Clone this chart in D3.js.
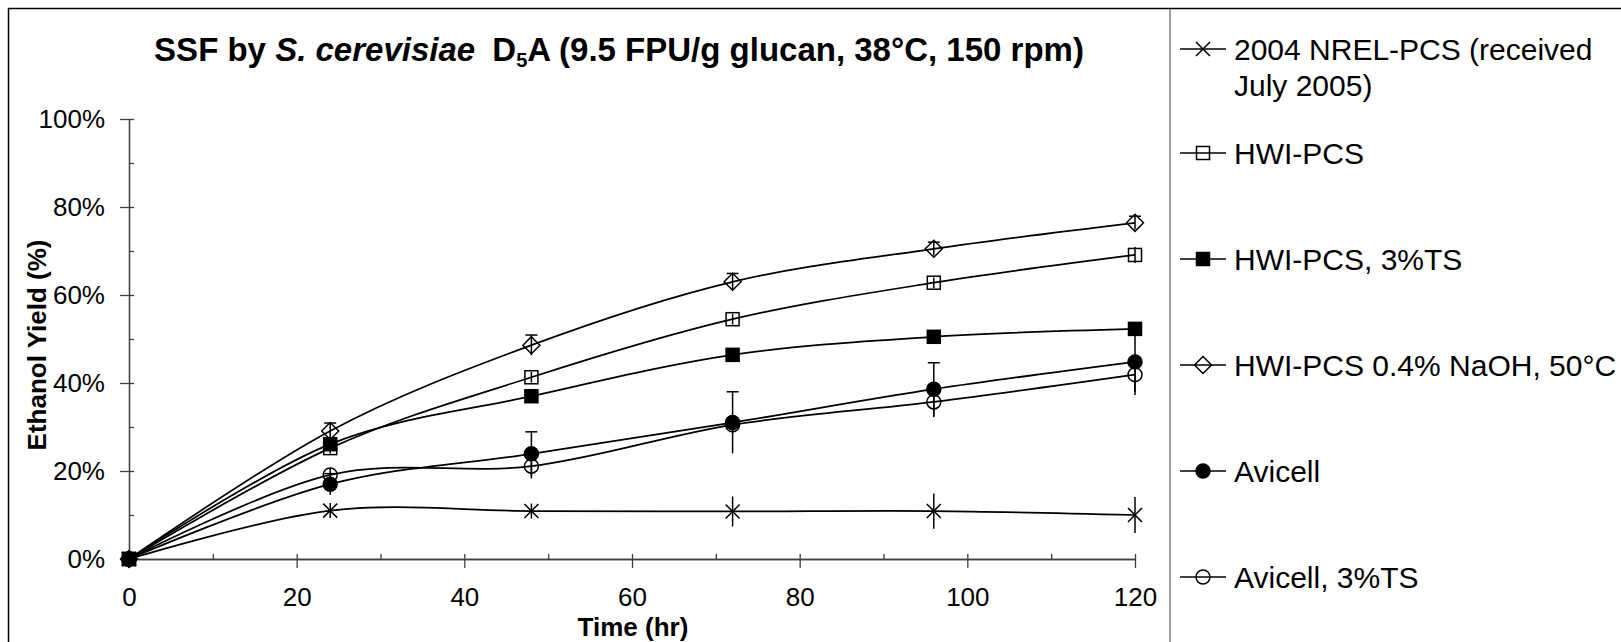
<!DOCTYPE html>
<html>
<head>
<meta charset="utf-8">
<script src="https://cdn.jsdelivr.net/npm/d3@7"></script>
<style>
  body { margin: 0; background: #fff; }
  text { font-family: "Liberation Sans", Arial, sans-serif; fill: #000; }
</style>
</head>
<body>
<svg width="1621" height="642"></svg>
<script>
// data (ethanol yield, % of theoretical)
const hours = [0, 24, 48, 72, 96, 120];
const seriesNames = [
  "2004 NREL-PCS (received|July 2005)",
  "HWI-PCS",
  "HWI-PCS, 3%TS",
  "HWI-PCS 0.4% NaOH, 50°C",
  "Avicell",
  "Avicell, 3%TS"
];
const nrelPcs = [0, 11.0, 10.9, 10.8, 10.9, 10.0];
const nrelPcsErr = [0, 1.7, 1.7, 3.4, 4.0, 4.1];
const hwiPcs = [0, 25.2, 41.3, 54.5, 62.8, 69.1];
const hwiPcsErr = [0, 1.2, 1.2, 1.2, 1.2, 1.8];
const hwiPcs3ts = [0, 26.1, 37.0, 46.4, 50.5, 52.3];
const hwiPcs3tsErr = [0, 1.0, 0.8, 0.8, 1.0, 1.2];
const hwiNaoh = [0, 29.1, 48.6, 63.0, 70.5, 76.4];
const hwiNaohErr = [0, 1.8, 2.3, 1.9, 1.5, 1.5];
const avicell = [0, 17.0, 23.9, 31.0, 38.6, 44.8];
const avicellErr = [0, 2.4, 5.0, 7.0, 6.0, 7.5];
const avicell3ts = [0, 19.1, 21.1, 30.5, 35.7, 41.9];
const avicell3tsErr = [0, 1.5, 2.8, 2.0, 3.5, 3.9];
const yTicks = [0, 20, 40, 60, 80, 100];
const xTicks = [0, 20, 40, 60, 80, 100, 120];

const series = [
  { name: seriesNames[0], values: nrelPcs, err: nrelPcsErr, marker: "x", cap: false },
  { name: seriesNames[1], values: hwiPcs, err: hwiPcsErr, marker: "square", fill: "none", cap: false },
  { name: seriesNames[2], values: hwiPcs3ts, err: hwiPcs3tsErr, marker: "square", fill: "#000", cap: false },
  { name: seriesNames[3], values: hwiNaoh, err: hwiNaohErr, marker: "diamond", fill: "none", cap: true },
  { name: seriesNames[4], values: avicell, err: avicellErr, marker: "circle", fill: "#000", cap: true },
  { name: seriesNames[5], values: avicell3ts, err: avicell3tsErr, marker: "circle", fill: "none", cap: false }
];

const svg = d3.select("svg");

const x = d3.scaleLinear().domain([0, 120]).range([129, 1135]);
const y = d3.scaleLinear().domain([0, 100]).range([559, 119]);

// outer frame and legend divider
svg.append("rect")
  .attr("x", 8.5).attr("y", 8.5)
  .attr("width", 2000).attr("height", 1000)
  .attr("fill", "none").attr("stroke", "#000").attr("stroke-width", 1.5);
svg.append("line")
  .attr("x1", 1170).attr("x2", 1170).attr("y1", 9).attr("y2", 642)
  .attr("stroke", "#7f7f7f").attr("stroke-width", 1.5);

// title
const title = svg.append("text")
  .attr("x", 619).attr("y", 61)
  .attr("text-anchor", "middle")
  .attr("font-size", 33).attr("font-weight", "bold");
title.append("tspan").text("SSF by ");
title.append("tspan").attr("font-style", "italic").text("S. cerevisiae");
title.append("tspan").attr("dx", 8).text(" D");
title.append("tspan").attr("font-size", 20).attr("dy", 6).text("5");
title.append("tspan").attr("dy", -6).text("A (9.5 FPU/g glucan, 38°C, 150 rpm)");

// axes
const axisColor = "#404040";
const yAxis = svg.append("g")
  .attr("transform", `translate(${x(0)},0)`)
  .call(d3.axisLeft(y).tickValues(yTicks).tickSize(9).tickSizeOuter(0)
    .tickPadding(15).tickFormat(d => d + "%"));
yAxis.selectAll(".tick").append("line").attr("x2", 5);
svg.append("g")
  .attr("transform", `translate(${x(0)},0)`)
  .call(d3.axisRight(y).tickValues([10, 30, 50, 70, 90]).tickSize(5).tickSizeOuter(0).tickFormat(""));

const xAxis = svg.append("g")
  .attr("transform", `translate(0,${y(0)})`)
  .call(d3.axisBottom(x).tickValues(xTicks).tickSize(9).tickSizeOuter(0).tickPadding(20));
xAxis.selectAll(".tick").append("line").attr("y2", -5);
svg.append("g")
  .attr("transform", `translate(0,${y(0)})`)
  .call(d3.axisTop(x).tickValues([10, 30, 50, 70, 90, 110]).tickSize(5).tickSizeOuter(0).tickFormat(""));

svg.selectAll(".domain, .tick line").attr("stroke", axisColor).attr("stroke-width", 1.3);
svg.selectAll(".tick text").attr("font-size", 26).attr("fill", "#000")
  .attr("font-family", "'Liberation Sans', Arial, sans-serif");

svg.append("text")
  .attr("x", 633).attr("y", 636)
  .attr("text-anchor", "middle")
  .attr("font-size", 26).attr("font-weight", "bold")
  .text("Time (hr)");
svg.append("text")
  .attr("transform", "translate(46,345) rotate(-90)")
  .attr("text-anchor", "middle")
  .attr("font-size", 26).attr("font-weight", "bold")
  .text("Ethanol Yield (%)");

// marker shapes
function drawMarker(g, type, fill) {
  if (type === "x") {
    g.append("path").attr("d", "M-7,-7L7,7M-7,7L7,-7")
      .attr("stroke", "#000").attr("stroke-width", 1.5).attr("fill", "none");
  } else if (type === "square") {
    g.append("rect").attr("x", -6.5).attr("y", -6.5).attr("width", 13).attr("height", 13)
      .attr("fill", fill).attr("stroke", "#000").attr("stroke-width", 1.5);
  } else if (type === "diamond") {
    g.append("path").attr("d", "M0,-8.5L8.5,0L0,8.5L-8.5,0Z")
      .attr("fill", fill).attr("stroke", "#000").attr("stroke-width", 1.5);
  } else if (type === "circle") {
    g.append("circle").attr("r", 7)
      .attr("fill", fill).attr("stroke", "#000").attr("stroke-width", 1.5);
  }
}

const line = d3.line()
  .x((d, i) => x(hours[i]))
  .y(d => y(d))
  .curve(d3.curveCardinal.tension(0));

const plot = svg.append("g");

// lines
series.forEach(s => {
  plot.append("path")
    .attr("d", line(s.values))
    .attr("fill", "none").attr("stroke", "#000").attr("stroke-width", 1.75);
});

// error bars
series.forEach(s => {
  s.values.forEach((v, i) => {
    const e = s.err[i];
    if (!e) return;
    const cx = x(hours[i]);
    plot.append("line")
      .attr("x1", cx).attr("x2", cx).attr("y1", y(v + e)).attr("y2", y(v - e))
      .attr("stroke", "#000").attr("stroke-width", 1.5);
    if (s.cap) {
      plot.append("line")
        .attr("x1", cx - 6).attr("x2", cx + 6).attr("y1", y(v + e)).attr("y2", y(v + e))
        .attr("stroke", "#000").attr("stroke-width", 1.5);
    }
  });
});

// markers
series.forEach(s => {
  s.values.forEach((v, i) => {
    const g = plot.append("g").attr("transform", `translate(${x(hours[i])},${y(v)})`);
    drawMarker(g, s.marker, s.fill);
  });
});

// legend
const legendY = i => (i === 0 ? 49 : 153 + (i - 1) * 106);
series.forEach((s, i) => {
  const g = svg.append("g").attr("transform", `translate(0,${legendY(i)})`);
  g.append("line").attr("x1", 1180).attr("x2", 1226)
    .attr("stroke", "#000").attr("stroke-width", 1.5);
  const m = g.append("g").attr("transform", "translate(1203,0)");
  drawMarker(m, s.marker, s.fill);
  s.name.split("|").forEach((t, k) => {
    g.append("text")
      .attr("x", 1234).attr("y", k * 36).attr("dy", "0.35em")
      .attr("font-size", 30)
      .text(t);
  });
});
</script>
</body>
</html>
